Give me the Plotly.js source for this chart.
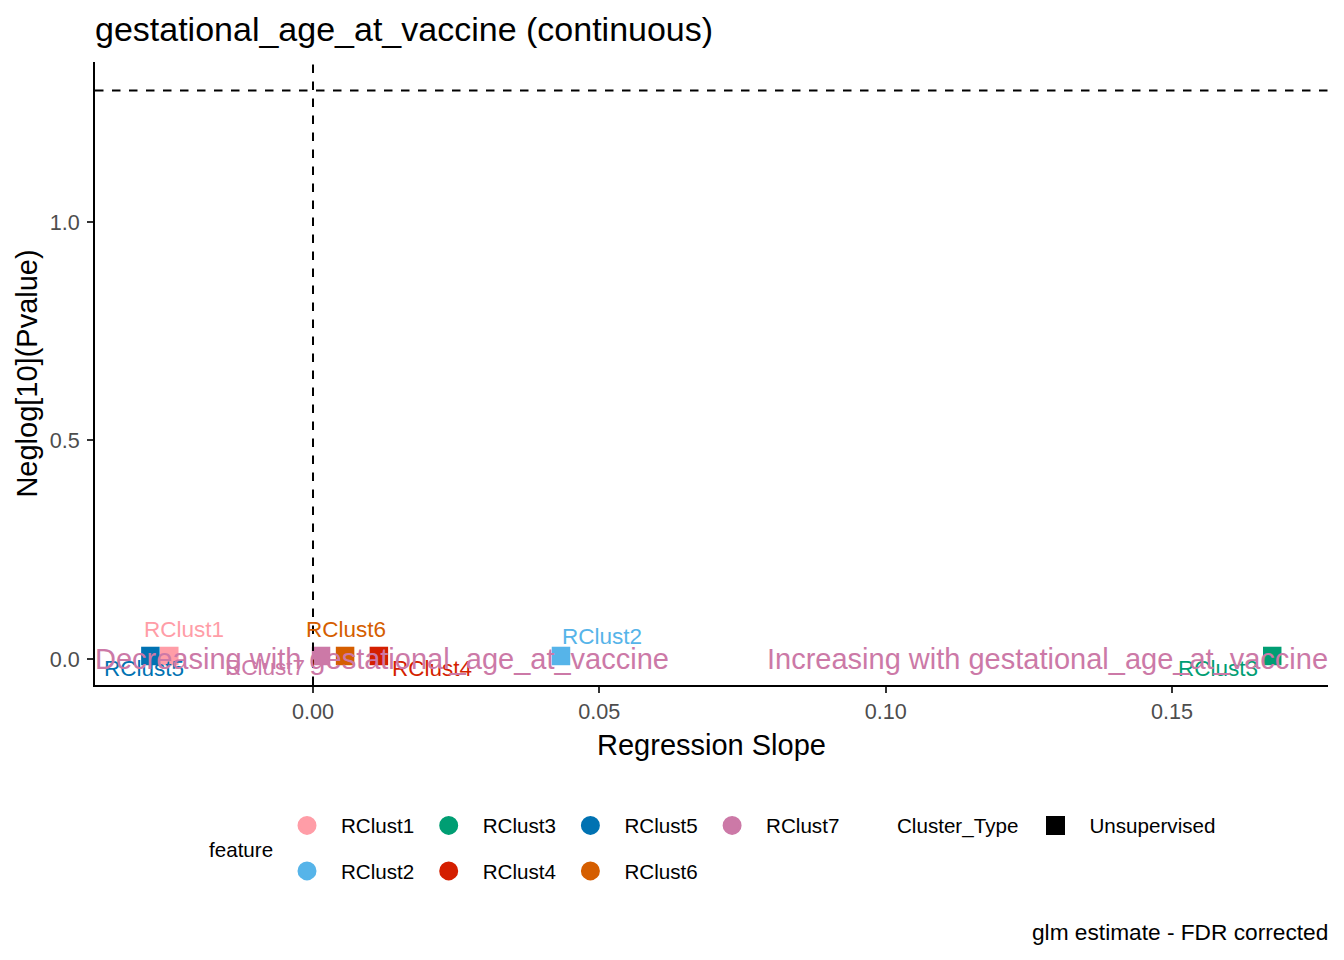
<!DOCTYPE html>
<html><head><meta charset="utf-8">
<script src="https://cdn.plot.ly/plotly-3.0.1.min.js"></script>
<style>html,body{margin:0;padding:0;background:#fff}</style>
</head><body><div id="chart" style="width:1344px;height:960px"></div>
<script>
// ---- data ----
const features = ["RClust1","RClust2","RClust3","RClust4","RClust5","RClust6","RClust7"];
const slopes   = [-0.0251, 0.0433, 0.1675, 0.0115, -0.0284, 0.0056, 0.0014];
const negLogP  = [0.0069, 0.0069, 0.0069, 0.0069, 0.0069, 0.0069, 0.0069];
const clusterTypes = ["Unsupervised"];
const legendRow1 = ["RClust1","RClust3","RClust5","RClust7"];
const legendRow2 = ["RClust2","RClust4","RClust6"];
const xTickVals = [0, 0.05, 0.10, 0.15];
const xTickText = ["0.00","0.05","0.10","0.15"];
const yTickVals = [0, 0.5, 1.0];
const yTickText = ["0.0","0.5","1.0"];
const pThreshold = 0.05;
const titleText = "gestational_age_at_vaccine (continuous)";
const variableName = "gestational_age_at_vaccine";

// ---- styles ----
const colors = {RClust1:"#FF9DA7",RClust2:"#56B4E9",RClust3:"#009E73",RClust4:"#D41F00",
                RClust5:"#0072B2",RClust6:"#D55E00",RClust7:"#CC79A7"};
// pixel offsets of repelled labels relative to their points [dx, dy(down)]
const labelShift = {RClust1:[14.5,-26],RClust2:[41,-19.5],RClust3:[-54,12.7],RClust4:[53.5,13],
                    RClust5:[-6.5,12.5],RClust6:[1,-26],RClust7:[-56,12]};
const FONT = "Liberation Sans, Arial, sans-serif";
const W = 1344, H = 960;
const M = {l:95, r:16, t:62, b:275};
const PW = W - M.l - M.r, PH = H - M.t - M.b;

const traces = [];
features.forEach((f, i) => {
  traces.push({
    type: "scatter", mode: "markers", x: [slopes[i]], y: [negLogP[i]],
    marker: {symbol: "square", size: 18.5, color: colors[f]},
    showlegend: false, hoverinfo: "x+y+name", name: f
  });
});
// legend-only entries (feature colour legend uses circles)
function legendEntry(f, legendId) {
  return {type:"scatter", mode:"markers", x:[null], y:[null], name:f, legend:legendId,
    marker:{symbol:"circle", size:16, color:colors[f], line:{color:colors[f], width:3}},
    showlegend:true, hoverinfo:"skip"};
}
legendRow1.forEach(f => traces.push(legendEntry(f, "legend")));
legendRow2.forEach(f => traces.push(legendEntry(f, "legend2")));
clusterTypes.forEach(c => traces.push({type:"scatter", mode:"markers", x:[null], y:[null], name:c,
  legend:"legend3", marker:{symbol:"square", size:16, color:"#000000", line:{color:"#000000", width:3}},
  showlegend:true, hoverinfo:"skip"}));

const annotations = [];
features.forEach((f, i) => {
  annotations.push({x: slopes[i], y: negLogP[i], xref:"x", yref:"y", text: f, showarrow:false,
    xanchor:"center", yanchor:"middle", xshift: labelShift[f][0], yshift: -labelShift[f][1],
    font:{family:FONT, size:22.5, color:colors[f]}});
});
annotations.push({x:0, y:0, xref:"x domain", yref:"y", text:"Decreasing with " + variableName,
  showarrow:false, xanchor:"left", yanchor:"middle", xshift:-2, font:{family:FONT, size:29, color:"#CC79A7"}});
annotations.push({x:1, y:0, xref:"x domain", yref:"y", text:"Increasing with " + variableName,
  showarrow:false, xanchor:"right", yanchor:"middle", xshift:2, font:{family:FONT, size:29, color:"#CC79A7"}});
annotations.push({x:(240.5 - M.l)/PW, y:(H - M.b - 849)/PH, xref:"paper", yref:"paper", text:"feature",
  showarrow:false, xanchor:"center", yanchor:"middle", font:{family:FONT, size:20.6, color:"#000000"}});
annotations.push({x:(895 - M.l)/PW, y:(H - M.b - 826)/PH, xref:"paper", yref:"paper", text:"Cluster_Type",
  showarrow:false, xanchor:"left", yanchor:"middle", font:{family:FONT, size:20.6, color:"#000000"}});
annotations.push({x:1, y:(H - M.b - 932)/PH, xref:"paper", yref:"paper", text:"glm estimate - FDR corrected",
  showarrow:false, xanchor:"right", yanchor:"middle", xshift:2, font:{family:FONT, size:22.7, color:"#000000"}});

const legendFont = {family:FONT, size:20.6, color:"#000000"};
const layout = {
  width: W, height: H, margin: M,
  paper_bgcolor:"#ffffff", plot_bgcolor:"#ffffff",
  font:{family:FONT, color:"#000000"},
  title:{text:titleText, xref:"container", x:95/W, xanchor:"left", yref:"container", y:1-29/H, yanchor:"middle",
    font:{family:FONT, size:34, color:"#000000"}},
  xaxis:{range:[-0.03807, 0.17724], tickvals:xTickVals, ticktext:xTickText, ticks:"outside", ticklen:6,
    tickwidth:2, tickcolor:"#333333", showline:true, linecolor:"#000000", linewidth:2, showgrid:false,
    zeroline:false, tickfont:{family:FONT, size:21.6, color:"#4D4D4D"},
    title:{text:"Regression Slope", standoff:12, font:{family:FONT, size:29, color:"#000000"}}},
  yaxis:{range:[-0.0595, 1.366], tickvals:yTickVals, ticktext:yTickText, ticks:"outside", ticklen:6,
    tickwidth:2, tickcolor:"#333333", showline:true, linecolor:"#000000", linewidth:2, showgrid:false,
    zeroline:false, ticklabelstandoff:3, tickfont:{family:FONT, size:21.6, color:"#4D4D4D"},
    title:{text:"Neglog[10](Pvalue)", standoff:3, font:{family:FONT, size:29, color:"#000000"}}},
  shapes:[
    {type:"line", xref:"x", yref:"paper", x0:0, x1:0, y0:0, y1:1, layer:"above",
     line:{color:"#000000", width:2, dash:"8.5px,8.5px"}},
    {type:"line", xref:"paper", yref:"y", x0:0, x1:1, y0:-Math.log10(pThreshold), y1:-Math.log10(pThreshold), layer:"above",
     line:{color:"#000000", width:2, dash:"8.5px,8.5px"}}
  ],
  annotations: annotations,
  legend:{orientation:"h", xref:"container", yref:"container", x:273/W, y:1-825.5/H, xanchor:"left", yanchor:"middle",
    itemwidth:58, entrywidth:68.7, entrywidthmode:"pixels", font:legendFont, bgcolor:"rgba(0,0,0,0)", traceorder:"normal"},
  legend2:{orientation:"h", xref:"container", yref:"container", x:273/W, y:1-871/H, xanchor:"left", yanchor:"middle",
    itemwidth:58, entrywidth:68.7, entrywidthmode:"pixels", font:legendFont, bgcolor:"rgba(0,0,0,0)", traceorder:"normal"},
  legend3:{orientation:"h", xref:"container", yref:"container", x:1021.5/W, y:1-825.5/H, xanchor:"left", yanchor:"middle",
    itemwidth:58, font:legendFont, bgcolor:"rgba(0,0,0,0)"}
};
Plotly.newPlot("chart", traces, layout, {displayModeBar:false, staticPlot:true});
</script></body></html>
